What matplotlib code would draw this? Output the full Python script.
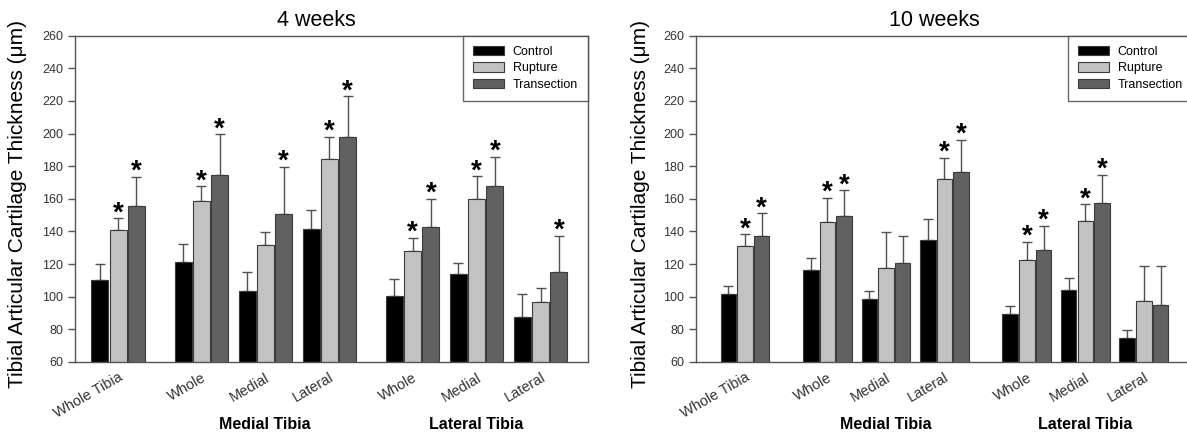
import numpy as np
import matplotlib
matplotlib.use('Agg')
import matplotlib.pyplot as plt
import matplotlib.transforms as mtransforms

plt.rcParams['font.family'] = ['Liberation Sans', 'DejaVu Sans']

regions = ['Whole Tibia', 'Whole', 'Medial', 'Lateral', 'Whole', 'Medial', 'Lateral']
treatments = ['Control', 'Rupture', 'Transection']
colors = ['#000000', '#c2c2c2', '#616161']

# 4 weeks
control4 = [110, 121.5, 103.5, 141.3, 100.6, 113.7, 87.8]
controlErr4 = [10, 11, 11.5, 12, 10, 7, 14]
rupture4 = [141, 158.6, 131.5, 184.2, 128.2, 159.9, 97]
ruptureErr4 = [7, 9, 8, 14, 8, 14, 8.5]
transection4 = [155.6, 174.6, 150.5, 198, 142.5, 167.8, 115.4]
transectionErr4 = [18, 25, 29, 25, 17.5, 18, 22]
ruptureStar4 = [True, True, False, True, True, True, False]
transectionStar4 = [True, True, True, True, True, True, True]

# 10 weeks
control10 = [101.5, 116.4, 98.6, 134.8, 89.6, 103.9, 74.7]
controlErr10 = [5, 7.5, 5, 13, 4.5, 7.8, 4.7]
rupture10 = [131.3, 145.6, 117.8, 172.1, 122.3, 146.6, 97.4]
ruptureErr10 = [7, 15, 21.7, 13, 11.4, 10.2, 21.6]
transection10 = [137.2, 149.5, 120.8, 176.2, 128.4, 157.2, 94.9]
transectionErr10 = [14, 15.7, 16.4, 20, 15, 17.6, 24.1]
ruptureStar10 = [True, True, False, True, True, True, False]
transectionStar10 = [True, True, False, True, True, True, False]

W, H = 1187, 437
fig = plt.figure(figsize=(W / 100, H / 100), dpi=100)


def groupPositions(gap):
    return np.array([0, gap, gap + 1, gap + 2, 2 * gap + 2, 2 * gap + 3, 2 * gap + 4])


def drawPanel(rect, title, titleX, gap, xlim, means, errs, stars):
    ax = fig.add_axes(rect)
    x = groupPositions(gap)
    width = 0.265
    step = 0.285
    for i in range(3):
        xs = x + (i - 1) * step
        ax.bar(xs, means[i], width, color=colors[i], edgecolor='#3c3c3c',
               linewidth=0.8, label=treatments[i], zorder=2)
        ax.errorbar(xs, means[i], yerr=[np.zeros(len(xs)), errs[i]], fmt='none',
                    ecolor='#505050', elinewidth=1, capsize=3.6, capthick=1, zorder=1)
        if stars[i] is None:
            continue
        for xx, m, e, s in zip(xs, means[i], errs[i], stars[i]):
            if s:
                ax.annotate('*', (xx, m + e), xytext=(0, -1.5), textcoords='offset points',
                            ha='center', va='baseline', fontsize=20, fontweight='bold')
    ax.set_xlim(xlim)
    ax.set_ylim(60, 260)
    ax.set_yticks(range(60, 261, 20))
    ax.set_xticks(x)
    ax.set_xticklabels(regions, rotation=30, ha='right', rotation_mode='anchor',
                       fontsize=10.5, color='#333333')
    ax.tick_params(axis='x', length=0, pad=6)
    ax.tick_params(axis='y', direction='out', length=5, width=1, color='#555555',
                   labelsize=9, labelcolor='#333333')
    for sp in ax.spines.values():
        sp.set_color('#555555')
        sp.set_linewidth(1)
    ax.set_ylabel('Tibial Articular Cartilage Thickness (μm)', fontsize=15)
    ax.yaxis.set_label_coords(-0.093, 0.485)
    ax.set_title(title, fontsize=15.5, pad=7, x=titleX)

    trans = mtransforms.blended_transform_factory(ax.transData, ax.transAxes)
    ax.text(x[2], -0.193, 'Medial Tibia', transform=trans, ha='center', va='center',
            fontsize=11.5, fontweight='bold')
    ax.text(x[5], -0.193, 'Lateral Tibia', transform=trans, ha='center', va='center',
            fontsize=11.5, fontweight='bold')

    leg = ax.legend(loc='upper right', bbox_to_anchor=(1, 1), borderaxespad=0,
                    fontsize=9, fancybox=False, handlelength=2.5, handleheight=0.8,
                    handletextpad=0.7, labelspacing=0.35, borderpad=0.8)
    leg.get_frame().set_edgecolor('#444444')
    leg.get_frame().set_linewidth(1)
    return ax


bottom = (H - 362) / H
height = (362 - 35.7) / H

drawPanel([75 / W, bottom, 513 / W, height], '4 weeks', 0.47, 1.3, (-0.672, 7.34),
          [control4, rupture4, transection4],
          [controlErr4, ruptureErr4, transectionErr4],
          [None, ruptureStar4, transectionStar4])

drawPanel([696 / W, bottom, 497 / W, height], '10 weeks', 0.48, 1.41, (-0.838, 7.66),
          [control10, rupture10, transection10],
          [controlErr10, ruptureErr10, transectionErr10],
          [None, ruptureStar10, transectionStar10])

fig.savefig('out.png', dpi=100)
